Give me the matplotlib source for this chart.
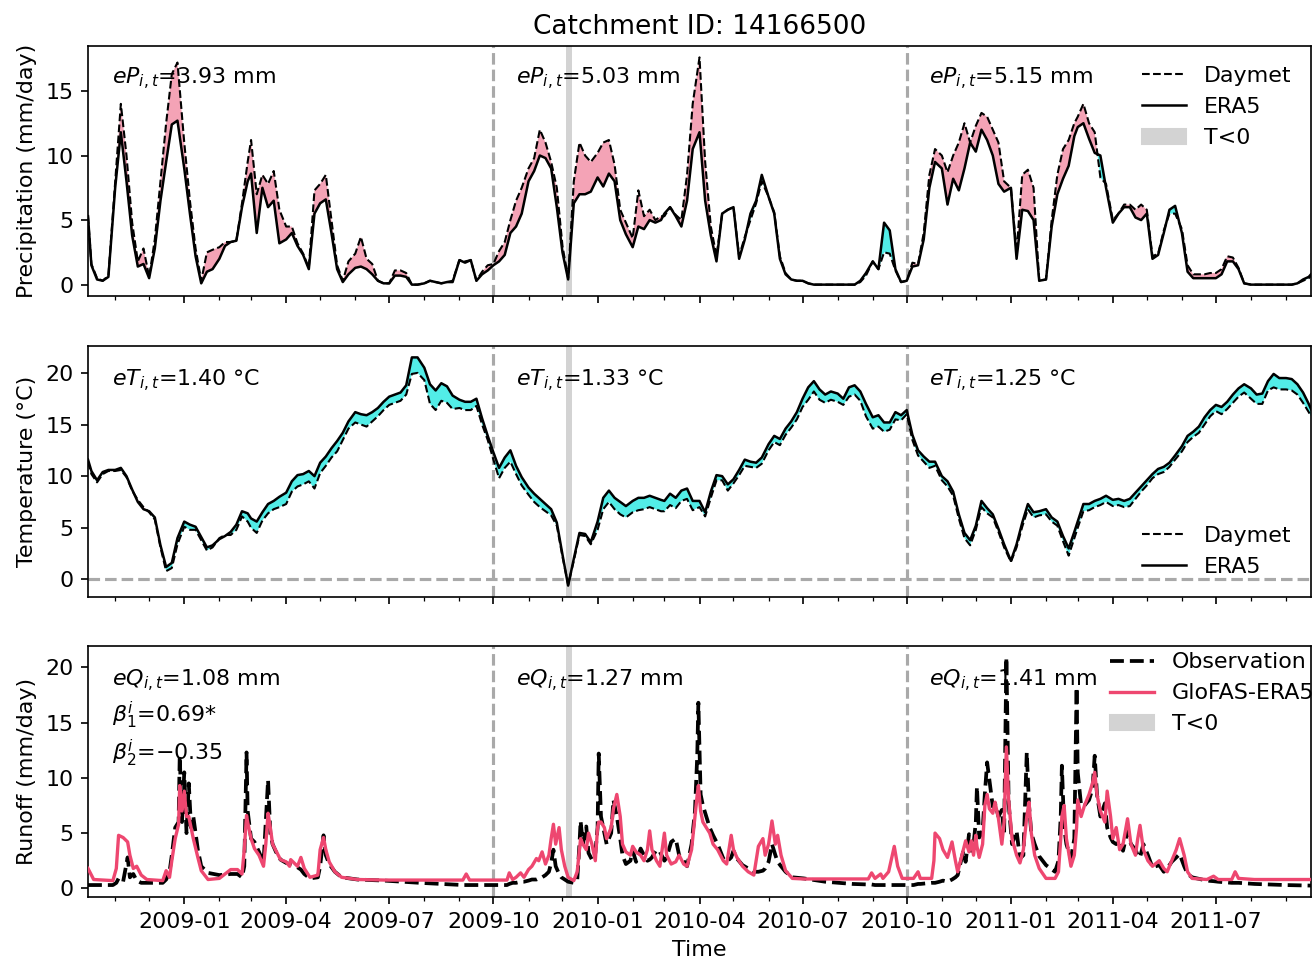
import matplotlib.pyplot as plt
import matplotlib.dates as mdates
from matplotlib.lines import Line2D
from matplotlib.patches import Patch
import numpy as np
import pandas as pd

CATCHMENT = '14166500'

# smoothed daily forcing, sampled on days 1/6/11/16/21/26 of each month
# (first value 2008-10-08, last value 2011-09-23)
daymet_p = [
    5.3, 1.6, 0.5, 0.3, 0.7,
    8.0, 14.0, 10.0, 4.8, 1.8, 2.8,
    0.6, 3.5, 8.0, 12.5, 16.3, 17.2,
    11.0, 6.5, 2.8, 0.3, 2.5, 2.7,
    2.9, 3.3, 3.3, 3.4, 6.3, 9.5,
    11.2, 7.0, 8.5, 7.8, 8.8, 5.8,
    4.5, 4.5, 3.2, 2.4, 1.3, 7.3,
    7.8, 8.5, 5.0, 1.5, 0.3, 1.8,
    2.4, 3.7, 2.0, 1.6, 0.3, 0.1,
    0.1, 1.1, 1.1, 0.9, 0.0, 0.0,
    0.1, 0.3, 0.2, 0.1, 0.2, 0.3,
    1.9, 1.8, 1.9, 0.3, 1.0, 1.5,
    1.6, 2.6, 3.3, 5.0, 6.5, 7.5,
    9.0, 9.8, 12.0, 11.0, 9.5, 7.5,
    3.0, 0.5, 8.0, 11.0, 10.0, 9.5,
    10.2, 11.0, 11.2, 9.3, 5.8, 4.8,
    3.6, 7.3, 5.3, 5.8, 5.0, 5.3,
    5.3, 6.0, 5.4, 5.0, 8.5, 14.0,
    17.6, 9.5, 4.5, 2.2, 5.5, 5.8,
    6.0, 2.2, 3.7, 5.0, 6.3, 8.0,
    6.8, 5.6, 2.2, 0.9, 0.4, 0.3,
    0.3, 0.1, 0.0, 0.0, 0.0, 0.0,
    0.0, 0.0, 0.0, 0.0, 0.2, 0.7,
    1.8, 1.2, 2.5, 2.4, 1.1, 0.2,
    0.3, 1.7, 1.6, 4.0, 8.5, 10.5,
    10.0, 8.7, 10.0, 11.0, 12.5, 11.0,
    12.3, 13.3, 13.0, 12.0, 11.0, 8.0,
    7.5, 2.5, 8.5, 8.9, 7.5, 0.3,
    0.4, 5.0, 8.5, 10.5, 11.2, 12.5,
    13.0, 14.0, 12.5, 11.8, 8.3, 7.8,
    5.0, 5.5, 6.2, 6.2, 5.8, 6.2,
    5.8, 2.2, 2.4, 4.2, 5.5, 5.5,
    4.3, 1.5, 0.8, 0.8, 0.8, 0.9,
    0.9, 1.2, 2.2, 2.1, 1.3, 0.1,
    0.0, 0.0, 0.0, 0.0, 0.0, 0.0,
    0.0, 0.0, 0.1, 0.3, 0.5, 0.7,
]
era5_p = [
    5.3, 1.5, 0.4, 0.3, 0.6,
    7.5, 11.8, 8.0, 3.8, 1.4, 1.6,
    0.5, 2.8, 6.5, 9.5, 12.4, 12.7,
    9.0, 5.5, 2.2, 0.1, 1.0, 1.2,
    2.0, 3.0, 3.3, 3.4, 6.0, 8.0,
    8.6, 4.0, 7.5, 6.0, 6.5, 3.2,
    3.5, 4.0, 3.0, 2.3, 1.2, 5.5,
    6.3, 6.6, 4.0, 1.2, 0.2, 0.8,
    1.3, 1.4, 1.2, 0.8, 0.3, 0.1,
    0.1, 0.7, 0.7, 0.6, 0.0, 0.0,
    0.1, 0.3, 0.2, 0.1, 0.2, 0.2,
    1.9, 1.7, 1.9, 0.3, 0.8, 1.1,
    1.5, 1.8, 2.3, 4.0, 4.5, 5.5,
    8.0, 8.8, 10.0, 9.8, 9.0, 6.0,
    2.5, 0.4, 6.3, 7.0, 7.0, 7.2,
    8.3, 7.6, 8.6, 8.0, 5.0, 3.9,
    2.9, 4.5, 4.3, 5.0, 4.8, 5.0,
    5.5, 6.0, 5.3, 4.5, 6.5, 10.5,
    11.8, 6.5, 3.8, 1.8, 5.5, 5.8,
    6.0, 2.0, 3.5, 5.5, 6.5, 8.5,
    6.8, 5.5, 2.0, 0.8, 0.4, 0.3,
    0.3, 0.1, 0.0, 0.0, 0.0, 0.0,
    0.0, 0.0, 0.0, 0.0, 0.3, 0.9,
    1.8, 1.2, 4.8, 4.2, 1.2, 0.2,
    0.3, 1.4, 1.5, 3.5, 7.5, 9.5,
    9.0, 6.2, 8.2, 7.3, 9.0, 11.0,
    10.3, 12.0, 11.2, 10.0, 7.8, 7.2,
    7.5, 2.0, 5.8, 5.7, 5.0, 0.3,
    0.4, 4.5, 7.0, 8.2, 9.2, 11.5,
    12.2, 12.5, 11.3, 10.2, 10.0, 7.5,
    4.8, 5.5, 6.0, 6.0, 5.2, 5.0,
    5.5, 2.0, 2.3, 4.0, 5.8, 6.1,
    4.0, 1.0, 0.5, 0.5, 0.5, 0.5,
    0.5, 0.8, 1.8, 1.8, 1.2, 0.1,
    0.0, 0.0, 0.0, 0.0, 0.0, 0.0,
    0.0, 0.0, 0.1, 0.4, 0.6, 0.8,
]
daymet_t = [
    11.4, 10.2, 9.4, 10.2, 10.5,
    10.5, 10.6, 9.9, 8.6, 7.7, 7.0,
    6.5, 5.8, 3.1, 0.8, 1.1, 3.4,
    5.1, 4.8, 4.8, 3.8, 2.8, 3.1,
    4.0, 4.3, 4.3, 4.8, 6.1, 5.6,
    5.0, 4.5, 5.7, 6.4, 6.8, 7.0,
    7.3, 8.5, 9.0, 9.2, 9.5, 8.8,
    10.3, 11.0, 11.8, 12.4, 13.5, 14.6,
    15.2, 15.0, 14.8, 15.3, 15.8, 16.4,
    16.9, 17.1, 17.3, 17.9, 19.9, 20.0,
    19.3, 17.0, 16.4, 17.3, 17.1, 16.5,
    16.6, 16.4, 16.4, 16.8, 15.0, 13.5,
    11.6, 9.8, 10.8, 11.4, 10.2, 9.1,
    8.2, 7.5, 7.0, 6.6, 6.2, 5.2,
    2.2, -0.5, 1.8, 4.3, 4.2, 3.4,
    4.8, 6.8, 7.5, 6.8, 6.3, 6.0,
    6.5, 6.7, 6.8, 7.0, 6.8, 6.6,
    6.6, 7.2, 6.9, 7.6, 7.8, 6.7,
    7.0, 6.1, 7.9, 9.6, 9.6, 8.6,
    9.3, 10.1, 11.0, 10.9, 10.8, 11.2,
    12.5, 13.3, 13.0, 14.0, 14.7, 15.5,
    16.7, 17.4, 18.2, 17.4, 17.1, 17.4,
    17.2, 16.9, 17.7, 17.9, 17.3, 15.8,
    14.6, 14.8, 14.3, 14.5, 15.5, 15.4,
    16.0, 13.5, 12.0, 11.4, 10.8, 11.0,
    9.6, 9.0, 8.1, 5.9, 4.0, 3.3,
    4.8, 7.0, 6.4, 6.0, 4.6, 3.1,
    1.7, 3.1, 5.1, 6.8, 6.0, 6.2,
    6.3, 5.6, 5.2, 3.7, 2.3, 4.0,
    5.0, 6.6, 6.7, 7.0, 7.2, 7.5,
    7.1, 7.2, 7.0, 7.1, 7.8, 8.5,
    9.1, 9.8, 10.2, 10.4, 10.9, 11.6,
    12.4, 13.3, 13.8, 14.2, 15.0, 15.8,
    16.3, 16.0, 16.5, 17.1, 17.7, 18.1,
    17.5, 17.0, 17.0, 18.3, 18.6, 18.4,
    18.4, 18.3, 17.9, 17.1, 16.2, 15.8,
]
era5_t = [
    11.6, 10.5, 9.6, 10.4, 10.6,
    10.6, 10.8, 10.0, 8.7, 7.5, 6.8,
    6.6, 6.0, 3.3, 1.2, 1.6, 4.0,
    5.6, 5.3, 5.1, 4.1, 3.1, 3.3,
    3.9, 4.2, 4.6, 5.3, 6.6, 6.4,
    5.9, 5.6, 6.5, 7.3, 7.6, 8.0,
    8.4, 9.5, 10.1, 10.2, 10.5, 10.0,
    11.3, 11.9, 12.7, 13.4, 14.2, 15.3,
    16.2, 16.0, 15.9, 16.2, 16.6, 17.2,
    17.7, 17.9, 18.1, 18.8, 21.5, 21.5,
    20.5, 18.9, 18.3, 19.0, 18.7, 17.8,
    17.4, 17.2, 17.2, 17.5, 15.6, 13.9,
    12.3, 10.8, 11.8, 12.5, 11.0, 9.9,
    8.9, 8.3, 7.8, 7.3, 6.8, 5.5,
    2.4, -0.6, 2.0, 4.5, 4.4, 3.6,
    5.6, 7.9, 8.6, 7.9, 7.5, 7.1,
    7.6, 7.9, 7.9, 8.1, 7.9, 7.7,
    7.6, 8.3, 7.9, 8.6, 8.8, 7.6,
    7.6, 6.5, 8.5, 10.1, 10.0, 9.2,
    9.7, 10.6, 11.6, 11.4, 11.3, 11.8,
    13.1, 13.9, 13.6, 14.6, 15.3, 16.2,
    17.5, 18.6, 19.2, 18.4, 17.9, 18.2,
    18.0, 17.5, 18.6, 18.8, 18.2, 17.0,
    15.7, 15.9, 15.2, 15.2, 16.2, 15.9,
    16.4, 14.0, 12.5, 11.9, 11.4, 11.4,
    10.0, 9.5, 8.5, 6.3, 4.5, 3.8,
    5.2, 7.6, 6.9, 6.3, 4.9, 3.4,
    1.8, 3.4, 5.5, 7.3, 6.5, 6.6,
    6.8, 6.0, 5.6, 4.2, 3.0, 4.6,
    5.6, 7.3, 7.3, 7.6, 7.8, 8.1,
    7.7, 7.8, 7.6, 7.8, 8.4, 9.0,
    9.6, 10.2, 10.7, 10.9, 11.3, 12.0,
    12.9, 13.9, 14.3, 14.8, 15.7, 16.4,
    16.9, 16.7, 17.2, 17.9, 18.5, 18.9,
    18.5, 17.9, 18.0, 19.2, 19.9, 19.5,
    19.5, 19.4, 18.9, 18.1, 17.0, 16.5,
]

# runoff: days since 2008-10-01, observed and GloFAS-ERA5 (mm/day)
q_days = [
    7, 12, 29, 32, 34, 38, 42, 44, 47, 50, 54, 59, 73, 76, 79, 81, 84, 87, 88, 90,
    92, 94, 96, 98, 100, 104, 107, 113, 123, 133, 139, 143, 145, 147, 148, 151, 154, 158, 162, 164,
    166, 168, 170, 173, 177, 182, 185, 186, 192, 195, 198, 203, 210, 212, 215, 217, 220, 225, 231, 245,
    269, 300, 338, 341, 344, 377, 379, 382, 385, 389, 392, 396, 399, 403, 405, 408, 411, 414, 416, 418,
    420, 423, 425, 428, 431, 436, 439, 441, 442, 444, 447, 449, 452, 455, 457, 458, 460, 463, 465, 469,
    471, 474, 477, 479, 482, 486, 488, 491, 495, 498, 501, 503, 505, 509, 512, 516, 518, 522, 526, 529,
    533, 536, 540, 543, 545, 546, 548, 550, 556, 559, 563, 568, 571, 575, 577, 580, 585, 590, 595, 599,
    603, 605, 608, 611, 614, 616, 619, 623, 629, 639, 658, 682, 696, 699, 702, 707, 709, 714, 719, 722,
    726, 736, 740, 742, 752, 754, 755, 759, 762, 766, 770, 773, 775, 780, 782, 785, 787, 789, 791, 792,
    794, 797, 799, 801, 803, 806, 808, 811, 814, 816, 818, 820, 823, 827, 830, 833, 836, 838, 840, 843,
    847, 853, 861, 864, 866, 867, 869, 871, 875, 878, 880, 881, 884, 887, 891, 894, 896, 898, 901, 905,
    907, 910, 912, 915, 918, 921, 925, 928, 932, 934, 936, 939, 943, 947, 953, 957, 960, 964, 968, 971,
    975, 978, 982, 995, 1001, 1005, 1017, 1020, 1023, 1037, 1064, 1087,
]
obs_q = [
    0.3, 0.3, 0.3, 0.5, 0.9, 0.6, 2.8, 1.0, 1.3, 0.7, 0.5, 0.5, 0.5, 0.8, 1.5, 3.0, 5.5, 6.0, 12.0, 6.0,
    10.5, 5.0, 9.5, 5.5, 6.5, 3.5, 2.0, 1.4, 1.2, 1.3, 1.3, 1.0, 2.0, 12.3, 7.0, 4.5, 4.2, 3.3, 2.3, 6.0,
    9.8, 5.0, 4.0, 3.3, 2.6, 2.3, 2.2, 2.1, 1.9, 1.7, 1.3, 0.9, 1.0, 2.0, 4.8, 3.0, 2.2, 1.5, 1.0, 0.8,
    0.7, 0.5, 0.3, 0.3, 0.3, 0.3, 0.4, 0.5, 0.5, 0.6, 0.6, 0.7, 0.8, 0.8, 0.9, 1.0, 1.2, 1.5, 2.3, 3.5,
    2.0, 1.3, 1.0, 0.8, 0.6, 0.5, 0.7, 4.0, 6.1, 4.0, 5.6, 3.2, 2.6, 3.2, 5.5, 12.2, 6.5, 5.0, 4.0, 5.0,
    8.0, 6.5, 4.5, 3.0, 2.2, 2.5, 3.4, 2.4, 3.6, 3.0, 2.5, 2.6, 2.8, 3.5, 3.3, 2.5, 2.8, 4.2, 4.5, 3.0,
    2.5, 2.0, 4.0, 7.0, 12.0, 16.8, 8.5, 7.5, 5.5, 4.8, 4.0, 2.7, 2.4, 2.8, 3.4, 2.7, 2.1, 1.8, 1.5, 1.5,
    1.6, 1.8, 2.4, 4.0, 3.0, 2.4, 2.0, 1.5, 1.0, 0.9, 0.6, 0.4, 0.35, 0.35, 0.3, 0.3, 0.3, 0.3, 0.3, 0.3,
    0.3, 0.3, 0.4, 0.4, 0.5, 0.5, 0.5, 0.6, 0.7, 0.6, 0.8, 1.0, 1.2, 3.4, 2.4, 4.9, 3.4, 4.0, 6.0, 9.2,
    4.6, 5.2, 8.6, 11.4, 9.8, 7.4, 7.7, 6.5, 7.1, 4.9, 20.9, 7.7, 4.0, 5.2, 2.7, 3.0, 12.3, 7.5, 5.0, 4.0,
    2.9, 2.1, 1.5, 2.5, 6.5, 11.1, 5.5, 4.0, 2.7, 4.5, 18.2, 10.5, 7.5, 7.5, 8.0, 9.0, 12.0, 8.5, 6.5, 7.7,
    5.5, 4.6, 4.2, 4.0, 4.3, 3.4, 5.2, 4.0, 3.5, 3.0, 2.8, 4.0, 3.0, 1.9, 2.1, 1.5, 1.8, 2.4, 2.8, 3.1,
    2.0, 1.3, 1.0, 0.7, 0.65, 0.6, 0.5, 0.5, 0.5, 0.4, 0.3, 0.25,
]
glofas_q = [
    1.8, 0.8, 0.7, 1.8, 4.8, 4.6, 4.2, 3.0, 1.8, 2.0, 1.2, 0.8, 0.7, 1.6, 1.0, 2.5, 4.5, 5.8, 9.3, 7.0,
    8.8, 6.5, 6.5, 5.5, 4.5, 2.8, 1.6, 0.8, 0.9, 1.7, 1.7, 1.3, 3.5, 6.6, 6.0, 4.5, 3.6, 3.0, 2.0, 4.0,
    6.8, 5.5, 4.0, 3.4, 2.6, 2.4, 2.0, 2.6, 2.0, 2.8, 1.8, 1.0, 1.2, 3.5, 4.6, 3.5, 2.4, 1.5, 1.0, 0.8,
    0.75, 0.75, 0.75, 1.3, 0.75, 0.75, 1.4, 0.8, 1.0, 1.4, 1.0, 1.7, 2.0, 2.7, 2.5, 3.3, 2.2, 3.0, 4.5, 5.8,
    4.0, 5.5, 3.5, 2.0, 1.0, 0.7, 1.5, 3.5, 4.5, 4.0, 3.5, 5.0, 4.0, 2.5, 5.5, 6.0, 6.0, 5.5, 4.5, 5.5,
    7.2, 8.5, 6.5, 4.0, 3.3, 3.0, 3.8, 3.3, 3.0, 2.5, 3.5, 5.2, 3.5, 2.5, 2.0, 5.0, 3.0, 2.2, 2.4, 3.0,
    2.2, 2.0, 3.5, 6.5, 8.5, 9.3, 7.0, 6.0, 5.0, 4.0, 3.5, 2.5, 2.2, 4.8, 3.5, 2.8, 2.0, 1.5, 1.2, 3.8,
    4.5, 3.0, 4.0, 6.1, 4.0, 4.8, 3.0, 1.6, 0.9, 0.85, 0.85, 0.85, 0.85, 1.4, 0.9, 1.3, 0.9, 1.5, 3.8, 2.0,
    0.9, 0.9, 1.5, 0.9, 0.9, 2.5, 5.0, 4.5, 3.5, 2.8, 4.2, 2.5, 1.5, 3.5, 4.3, 3.3, 4.3, 3.0, 4.8, 3.8,
    2.8, 4.0, 7.5, 8.5, 7.2, 6.8, 7.8, 6.3, 4.0, 6.0, 12.8, 8.0, 4.5, 3.0, 2.3, 3.5, 6.5, 7.8, 5.0, 3.0,
    1.8, 0.9, 0.9, 1.5, 4.5, 6.5, 7.5, 4.5, 2.0, 3.0, 5.5, 8.0, 6.5, 7.5, 8.5, 9.5, 10.5, 8.5, 7.0, 6.0,
    8.8, 6.5, 4.5, 5.5, 3.5, 4.0, 6.3, 4.0, 3.0, 4.5, 5.7, 3.5, 2.5, 2.0, 2.5, 1.8, 1.5, 2.5, 3.5, 4.5,
    3.0, 1.5, 0.9, 0.8, 1.1, 0.8, 0.8, 1.5, 0.9, 0.8, 0.8, 0.8,
]

# sub-freezing period (ERA5 temperature below 0)
freeze_start = '2009-12-04'
freeze_end = '2009-12-09'

water_years = ['2009-10-01', '2010-10-01']
label_dates = ['2008-10-29', '2009-10-21', '2010-10-21']
ep_values = [3.93, 5.03, 5.15]
et_values = [1.40, 1.33, 1.25]
eq_values = [1.08, 1.27, 1.41]
beta1 = '0.69*'
beta2 = '\u22120.35'

PINK = '#F4A3B6'
CYAN = '#52EDE7'
GLOFAS = '#EE4770'
GUIDE = '#A9A9A9'


def sample_dates():
    days = pd.date_range('2008-10-11', '2011-09-21', freq='D')
    grid = days[days.day.isin([1, 6, 11, 16, 21, 26])]
    head = pd.DatetimeIndex([pd.Timestamp('2008-10-08')])
    tail = pd.DatetimeIndex([pd.Timestamp('2011-09-23')])
    return head.append(grid).append(tail)


def shade_difference(ax, x, daymet, era5):
    d = np.asarray(daymet)
    e = np.asarray(era5)
    ax.fill_between(x, d, e, where=d >= e, interpolate=True, color=PINK, lw=0)
    ax.fill_between(x, d, e, where=d < e, interpolate=True, color=CYAN, lw=0)


def add_guides(ax):
    for wy in water_years:
        ax.axvline(pd.Timestamp(wy), color=GUIDE, ls='--', lw=1.5, zorder=1)
    ax.axvspan(pd.Timestamp(freeze_start), pd.Timestamp(freeze_end),
               color='lightgray', lw=0, zorder=0)


def main():
    plt.rcParams['font.size'] = 10.6
    dates = sample_dates()
    q_dates = pd.Timestamp('2008-10-01') + pd.to_timedelta(q_days, unit='D')

    fig = plt.figure(figsize=(8.76, 6.4), dpi=150)
    left = 88 / 1314
    width = (1311 - 88) / 1314
    ax_p = fig.add_axes([left, 664 / 960, width, 250 / 960])
    ax_t = fig.add_axes([left, 363 / 960, width, 251 / 960], sharex=ax_p)
    ax_q = fig.add_axes([left, 63 / 960, width, 251 / 960], sharex=ax_p)

    # precipitation
    shade_difference(ax_p, dates, daymet_p, era5_p)
    ax_p.plot(dates, daymet_p, 'k--', lw=1.0, zorder=3)
    ax_p.plot(dates, era5_p, 'k-', lw=1.2, zorder=3)
    add_guides(ax_p)
    ax_p.set_ylabel('Precipitation (mm/day)')
    ax_p.set_title('Catchment ID: ' + CATCHMENT, fontsize=12.7)

    # temperature
    shade_difference(ax_t, dates, daymet_t, era5_t)
    ax_t.plot(dates, daymet_t, 'k--', lw=1.0, zorder=3)
    ax_t.plot(dates, era5_t, 'k-', lw=1.2, zorder=3)
    add_guides(ax_t)
    ax_t.axhline(0, color=GUIDE, ls='--', lw=1.5, zorder=1)
    ax_t.set_ylabel('Temperature (°C)')

    # runoff
    ax_q.plot(q_dates, obs_q, 'k--', lw=1.8, zorder=3)
    ax_q.plot(q_dates, glofas_q, color=GLOFAS, lw=1.6, zorder=3)
    add_guides(ax_q)
    ax_q.set_ylabel('Runoff (mm/day)')
    ax_q.set_xlabel('Time')

    for i, d in enumerate(label_dates):
        x = pd.Timestamp(d)
        ax_p.text(x, 0.868, r'$eP_{i,t}$=%.2f mm' % ep_values[i],
                  transform=ax_p.get_xaxis_transform(), va='center', ha='left')
        ax_t.text(x, 0.862, r'$eT_{i,t}$=%.2f °C' % et_values[i],
                  transform=ax_t.get_xaxis_transform(), va='center', ha='left')
        ax_q.text(x, 0.862, r'$eQ_{i,t}$=%.2f mm' % eq_values[i],
                  transform=ax_q.get_xaxis_transform(), va='center', ha='left')
    x0 = pd.Timestamp(label_dates[0])
    ax_q.text(x0, 0.725, r'$\beta_1^i$=' + beta1,
              transform=ax_q.get_xaxis_transform(), va='center', ha='left')
    ax_q.text(x0, 0.574, r'$\beta_2^i$=' + beta2,
              transform=ax_q.get_xaxis_transform(), va='center', ha='left')

    # legends
    dm = Line2D([], [], color='k', ls='--', lw=1.0, label='Daymet')
    er = Line2D([], [], color='k', ls='-', lw=1.2, label='ERA5')
    fr = Patch(color='lightgray', label='T<0')
    ax_p.legend(handles=[dm, er, fr], loc='upper right', frameon=False)
    ax_t.legend(handles=[dm, er], loc='lower right', frameon=False)
    ob = Line2D([], [], color='k', ls='--', lw=1.8, label='Observation')
    gl = Line2D([], [], color=GLOFAS, lw=1.6, label='GloFAS-ERA5')
    ax_q.legend(handles=[ob, gl, fr], loc='upper right', frameon=False,
                bbox_to_anchor=(1.01, 1.01), borderaxespad=0)

    ax_q.xaxis.set_major_locator(mdates.MonthLocator(bymonth=[1, 4, 7, 10]))
    ax_q.xaxis.set_minor_locator(mdates.MonthLocator())
    ax_q.xaxis.set_major_formatter(mdates.DateFormatter('%Y-%m'))
    ax_q.set_xlim(dates[0], dates[-1])
    for ax in (ax_p, ax_t):
        ax.tick_params(labelbottom=False)

    fig.savefig('out.png', dpi=150)
    plt.close(fig)


if __name__ == '__main__':
    main()
